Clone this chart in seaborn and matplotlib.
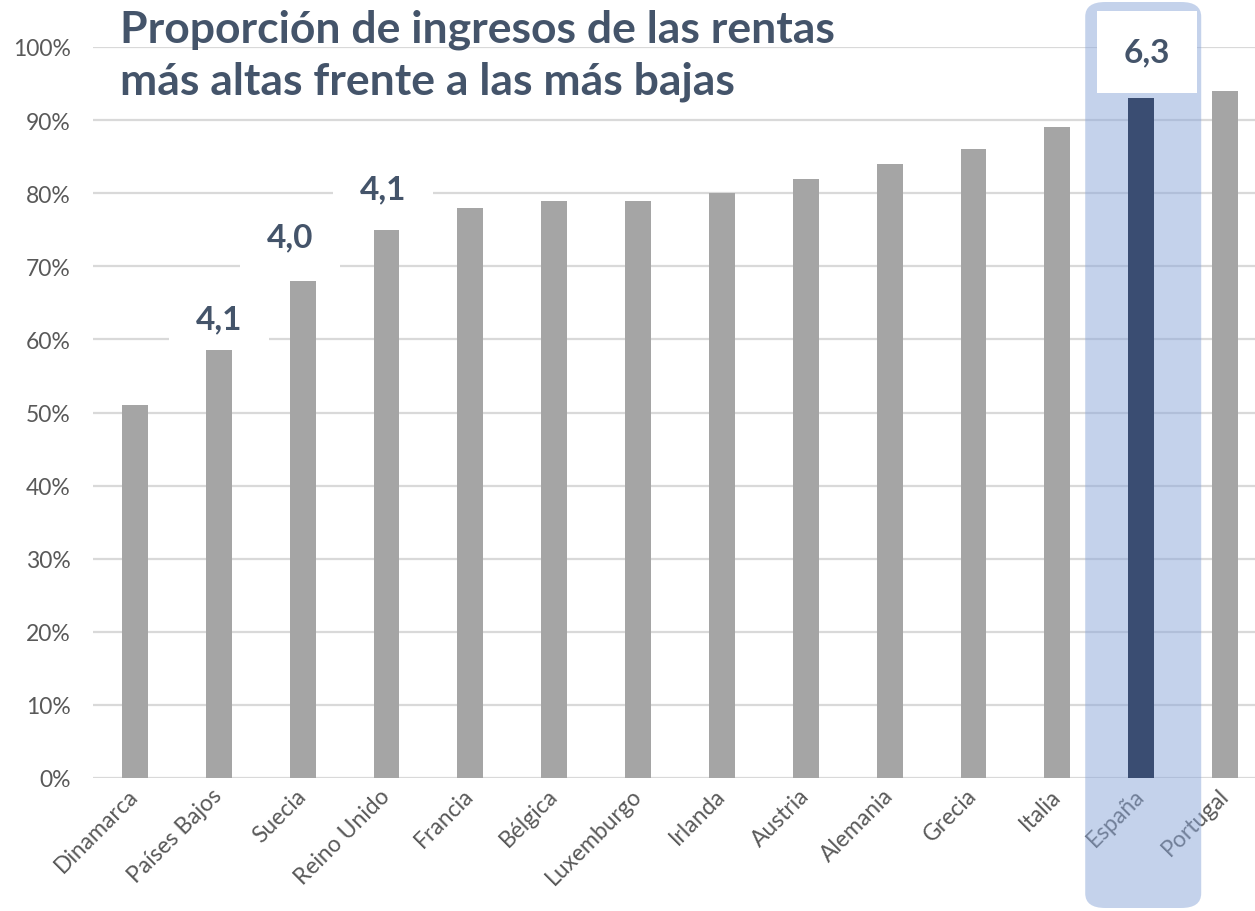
import matplotlib
matplotlib.use("Agg")
import matplotlib.pyplot as plt
import seaborn as sns
from matplotlib.patches import FancyBboxPatch

# Data
paises = ['Dinamarca', 'Países Bajos', 'Suecia', 'Reino Unido', 'Francia', 'Bélgica',
          'Luxemburgo', 'Irlanda', 'Austria', 'Alemania', 'Grecia', 'Italia',
          'España', 'Portugal']
valores = [0.51, 0.586, 0.68, 0.75, 0.78, 0.79, 0.79, 0.80, 0.82, 0.84, 0.86, 0.89, 0.93, 0.94]
etiquetas = {'Países Bajos': '4,1', 'Suecia': '4,0', 'Reino Unido': '4,1', 'España': '6,3'}
destacado = 'España'
titulo = 'Proporción de ingresos de las rentas\nmás altas frente a las más bajas'

# Colors / style
GRIS = '#A5A5A5'
AZUL = '#3A4D72'
TEXTO = '#44546A'
sns.set_style('white')
plt.rcParams['font.family'] = ['Lato', 'DejaVu Sans']

W, H = 1255, 912
fig = plt.figure(figsize=(W / 100, H / 100), dpi=100)
# axes extends slightly past the right edge, like the cropped original
ax = fig.add_axes([93 / W, 133 / H, 1174 / W, 731 / H])

colores = [AZUL if p == destacado else GRIS for p in paises]
sns.barplot(x=paises, y=valores, hue=paises, palette=colores, legend=False,
            width=0.31, ax=ax, saturation=1, linewidth=0)
for p in ax.patches:
    p.set_zorder(3)

ax.set_ylim(0, 1.0)
ax.set_xlim(-0.5, len(paises) - 0.5)
ax.set_yticks([i / 10 for i in range(11)])
ax.set_yticklabels([f'{i * 10}%' for i in range(11)])
ax.set_axisbelow(True)
ax.grid(axis='y', color='#D9D9D9', linewidth=1.6)
ax.grid(axis='x', visible=False)
for s in ax.spines.values():
    s.set_visible(False)
ax.tick_params(axis='both', length=0, labelsize=16.5, labelcolor='#595959')
ax.tick_params(axis='y', pad=16)
ax.tick_params(axis='x', pad=10)
for lbl in ax.get_xticklabels():
    lbl.set_rotation(45)
    lbl.set_ha('right')
    lbl.set_va('center')
    lbl.set_rotation_mode('anchor')
ax.set_xlabel('')
ax.set_ylabel('')

# value labels with white boxes (kept under the bars so bar tops stay visible)
offsets = {'Países Bajos': (0, 0.042), 'Suecia': (-0.15, 0.06),
           'Reino Unido': (-0.04, 0.056), 'España': (0.07, 0.063)}
for i, p in enumerate(paises):
    if p in etiquetas:
        dx, dy = offsets[p]
        ax.text(i + dx, valores[i] + dy, etiquetas[p], ha='center', va='center',
                fontsize=24, fontweight='bold', color=TEXTO, zorder=2.5,
                bbox=dict(boxstyle='square,pad=0.8', facecolor='white', edgecolor='none'))

# highlight band behind España
k = paises.index(destacado)
xc = ax.transData.transform((k, 0))[0]
x0 = xc - 56
x1 = x0 + 116
band = FancyBboxPatch((x0 / W, 3 / H), (x1 - x0) / W, (H - 6) / H,
                      boxstyle='round,pad=0,rounding_size=0.016',
                      transform=fig.transFigure, facecolor='#8BA7D9', alpha=0.5,
                      edgecolor='none', zorder=2, clip_on=False)
ax.add_artist(band)

fig.text(120 / W, 1 - 10 / H, titulo, ha='left', va='top', fontsize=32,
         fontweight='bold', color=TEXTO, linespacing=1.33)

fig.savefig('out.png', dpi=100, facecolor='white')
